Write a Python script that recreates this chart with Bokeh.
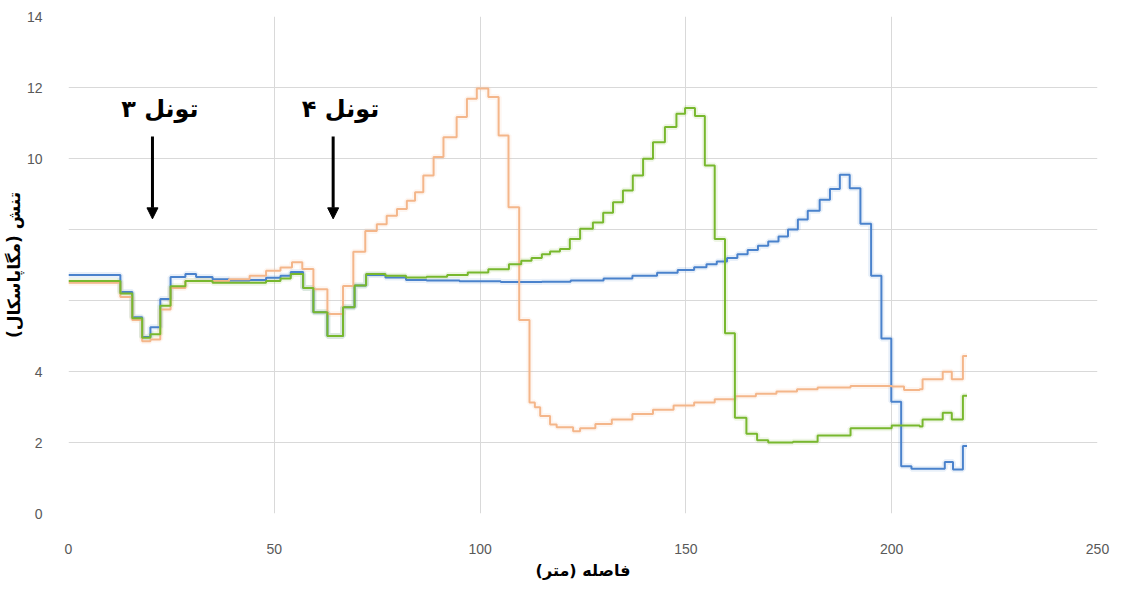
from bokeh.plotting import figure
from bokeh.models import Label, Arrow, NormalHead, FixedTicker, Range1d
from bokeh.embed import file_html
from bokeh.resources import INLINE

# ---------------- data (distance m, stress MPa) ----------------
blue_x = [0, 12.6, 15.5, 17.9, 19.9, 22.3, 24.8, 28.4, 31, 35, 39, 44, 48, 51.5, 54,
          57, 59.5, 62.9, 66.7, 69.5, 72.3, 77, 82, 87, 95, 105, 115, 122, 130, 137,
          143, 148, 152, 155, 157.5, 160, 162.5, 165, 167.5, 170, 172.5, 174.8, 177.2,
          179.6, 182.5, 185, 187.4, 189.8, 192.4, 195, 197.5, 199.9, 202.3, 204.8,
          212.9, 214.9, 217.3, 218.3]
blue_y = [6.72, 6.24, 5.53, 4.97, 5.25, 6.04, 6.66, 6.75, 6.66, 6.6, 6.56, 6.58, 6.64, 6.7, 6.8,
          6.35, 5.67, 5.0, 5.81, 6.42, 6.72, 6.65, 6.58, 6.56, 6.54, 6.52, 6.53, 6.56, 6.62, 6.7,
          6.78, 6.86, 6.94, 7.02, 7.1, 7.2, 7.3, 7.42, 7.54, 7.66, 7.8, 8.0, 8.28,
          8.53, 8.84, 9.14, 9.54, 9.16, 8.16, 6.7, 4.93, 3.15, 1.33, 1.26,
          1.45, 1.24, 1.9, 1.9]

orange_x = [0, 12.6, 15.5, 17.9, 19.9, 22.3, 24.8, 28.4, 35, 39, 44, 48, 51.5, 54.3,
            56.8, 59.5, 62.9, 66.7, 69.2, 72.1, 74.9, 77.3, 79.8, 82.2, 84.2, 86.2, 88.7,
            91.1, 94.3, 96.8, 99.2, 102, 104.5, 106.9, 109.5, 112, 113.3, 114.6, 117,
            118.6, 122.6, 124.3, 128, 132, 137, 142, 147, 152, 157, 162, 167, 172, 177,
            182, 190, 200, 203, 206.8, 207.5, 212.4, 214.6, 217.3, 218.3]
orange_y = [6.5, 6.1, 5.45, 4.85, 4.9, 5.75, 6.35, 6.55, 6.55, 6.6, 6.7, 6.84, 6.93, 7.08,
            6.89, 6.32, 5.62, 6.41, 7.37, 7.96, 8.15, 8.39, 8.58, 8.81, 9.05, 9.52, 10.04,
            10.6, 11.17, 11.68, 11.97, 11.73, 10.65, 8.63, 5.45, 3.13, 2.99, 2.75, 2.51,
            2.43, 2.32, 2.4, 2.52, 2.65, 2.8, 2.92, 3.04, 3.13, 3.22, 3.3, 3.37, 3.44, 3.5,
            3.55, 3.59, 3.58, 3.48, 3.5, 3.78, 3.99, 3.78, 4.44, 4.44]

green_x = [0, 12.6, 15.5, 17.9, 19.9, 22.3, 24.8, 28.4, 35, 39, 44, 48, 51.5, 54,
           57, 59.5, 62.9, 66.7, 69.5, 72.3, 77, 82, 87, 92, 97, 102, 107, 110, 112.5,
           115, 117, 119.4, 121.8, 124.3, 127.4, 129.9, 132.3, 134.7, 137.1, 139.6, 142,
           144.9, 147.7, 149.8, 152.2, 154.6, 157, 159.5, 161.9, 164.7, 167.3, 170, 176,
           182, 190, 200, 206.8, 207.5, 212.4, 214.6, 217.3, 218.3]
green_y = [6.55, 6.2, 5.5, 4.95, 5.05, 5.85, 6.4, 6.55, 6.5, 6.5, 6.5, 6.55, 6.62, 6.75,
           6.35, 5.67, 5.0, 5.81, 6.42, 6.75, 6.7, 6.65, 6.67, 6.72, 6.79, 6.88, 7.02, 7.12, 7.2,
           7.3, 7.38, 7.45, 7.73, 8.02, 8.2, 8.47, 8.77, 9.1, 9.52, 9.99, 10.46,
           10.89, 11.26, 11.42, 11.2, 9.8, 7.73, 5.08, 2.7, 2.25, 2.06, 2.0, 2.02,
           2.2, 2.4, 2.48, 2.45, 2.65, 2.84, 2.65, 3.32, 3.32]

x_ticks = [0, 50, 100, 150, 200, 250]
y_ticks = [0, 2, 4, 6, 8, 10, 12, 14]
hidden_y_labels = [6, 8]

tunnel_names = ["تونل ۳", "تونل ۴"]
tunnel_pos = [20.4, 64.3]

x_title = "فاصله (متر)"
y_title = "تنش (مگاپاسکال)"

# ---------------- figure ----------------
p = figure(width=1120, height=583, output_backend="svg", toolbar_location=None,
           x_range=Range1d(0, 250), y_range=Range1d(0, 14),
           min_border_left=67, min_border_right=23, min_border_top=16, min_border_bottom=70)
p.outline_line_color = None
p.background_fill_color = "white"
p.border_fill_color = "white"

for ax in (p.xaxis[0], p.yaxis[0]):
    ax.axis_line_color = None
    ax.major_tick_line_color = None
    ax.minor_tick_line_color = None
    ax.major_label_text_color = "#595959"
    ax.major_label_text_font = "Liberation Sans"
    ax.major_label_text_font_size = "14px"

p.xaxis.ticker = FixedTicker(ticks=x_ticks)
p.yaxis.ticker = FixedTicker(ticks=y_ticks)
p.yaxis.major_label_overrides = {v: "" for v in hidden_y_labels}
p.xaxis.major_label_standoff = 24
p.yaxis.major_label_standoff = 20

p.xaxis.axis_label = x_title
p.xaxis.axis_label_text_font = "DejaVu Sans"
p.xaxis.axis_label_text_font_style = "bold"
p.xaxis.axis_label_text_font_size = "16px"
p.xaxis.axis_label_text_color = "black"
p.xaxis.axis_label_standoff = 4

p.yaxis.axis_label = y_title
p.yaxis.axis_label_text_font = "DejaVu Sans"
p.yaxis.axis_label_text_font_style = "bold"
p.yaxis.axis_label_text_font_size = "17px"
p.yaxis.axis_label_text_color = "black"
p.yaxis.axis_label_standoff = 0

p.xgrid.grid_line_color = "#d9d9d9"
p.ygrid.grid_line_color = "#d9d9d9"
p.xgrid.grid_line_width = 1
p.ygrid.grid_line_width = 1

series = [(blue_x, blue_y, "#4a82cc"),
          (orange_x, orange_y, "#f4b68a"),
          (green_x, green_y, "#78b82e")]
for xs, ys, c in series:
    p.step(xs, ys, mode="after", line_color=c, line_width=6, line_alpha=0.12)
for xs, ys, c in series:
    p.step(xs, ys, mode="after", line_color=c, line_width=2)

# tunnel annotations
for name, xp in zip(tunnel_names, tunnel_pos):
    p.add_layout(Arrow(end=NormalHead(size=11, fill_color="black", line_color="black"),
                       x_start=xp, y_start=10.62, x_end=xp, y_end=8.3,
                       line_color="black", line_width=3))
    p.add_layout(Label(x=xp + 1.8, y=11.4, text=name, text_align="center",
                       text_baseline="middle", text_font="DejaVu Sans",
                       text_font_style="bold", text_font_size="24px", text_color="black"))

open("out.html", "w").write(file_html(p, INLINE))
